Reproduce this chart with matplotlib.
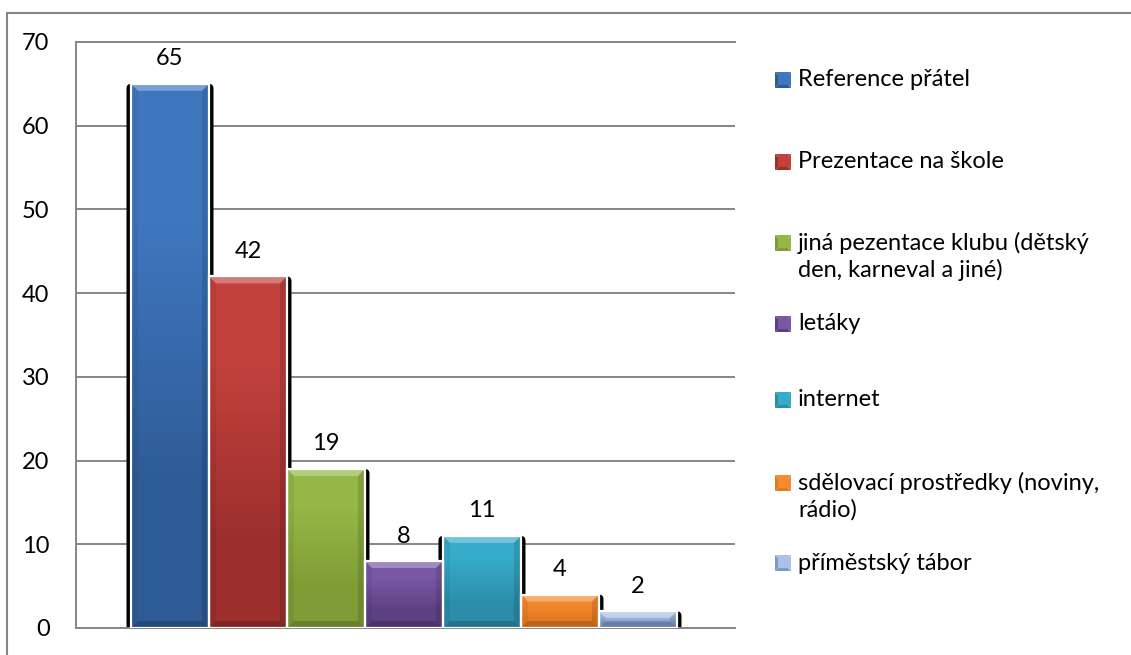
import matplotlib
matplotlib.use("Agg")
import matplotlib.pyplot as plt
import matplotlib.patches as mpatches
from matplotlib.colors import LinearSegmentedColormap
import numpy as np

# data
labels = ["Reference přátel", "Prezentace na škole",
          "jiná pezentace klubu (dětský\nden, karneval a jiné)", "letáky",
          "internet", "sdělovací prostředky (noviny,\nrádio)", "příměstský tábor"]
values = [65, 42, 19, 8, 11, 4, 2]
top_colors = ["#3F77BF", "#C2413D", "#95B747", "#7858A5", "#37ABCA", "#F58B30", "#A9C3E6"]
bottom_colors = ["#2E5B95", "#9C2F2C", "#7E9D36", "#5D4083", "#2B8DA9", "#E37B22", "#7F99C4"]
yticks = [0, 10, 20, 30, 40, 50, 60, 70]

W, H = 1131, 655
FONT = "Lato"
FS = 17

fig = plt.figure(figsize=(W / 100, H / 100), dpi=100)

def fx(x):
    return x / W

def fy(y):
    return 1 - y / H

# outer chart border
fig.patches.append(mpatches.Rectangle((fx(7), -0.1), 1.2, fy(13) + 0.1, transform=fig.transFigure,
                                      fill=False, edgecolor="#868686", lw=1.5))

ax = fig.add_axes([fx(76), fy(628), fx(735) - fx(76), fy(42) - fy(628)])
ax.set_xlim(-1.205, 7.244)
ax.set_ylim(0, 70)

xppu = (735 - 76) / (7.244 + 1.205)   # pixels per x unit
yppu = (628 - 42) / 70.0              # pixels per y unit

# black shadows first
for i, v in enumerate(values):
    x0 = i - 0.5
    sh = mpatches.FancyBboxPatch((x0 - 4.5 / xppu, -2.5 / yppu), 1 + 9 / xppu, v + 2.5 / yppu,
                                 boxstyle="round,pad=0,rounding_size=0.06",
                                 mutation_aspect=xppu / yppu, facecolor="black",
                                 edgecolor="none", zorder=2)
    ax.add_patch(sh)

dx = 7 / xppu
dy = 7 / yppu
for i, v in enumerate(values):
    x0, x1 = i - 0.5, i + 0.5
    cmap = LinearSegmentedColormap.from_list("g%d" % i, [top_colors[i], bottom_colors[i]])
    ax.imshow(np.array([[0.0], [1.0]]), cmap=cmap, extent=(x0, x1, 0, v), aspect="auto",
              interpolation="bilinear", origin="upper", zorder=3)
    d_y = min(dy, v / 2.5)
    # bevels
    ax.add_patch(mpatches.Polygon([(x0, v), (x1, v), (x1 - dx, v - d_y), (x0 + dx, v - d_y)],
                                  facecolor="white", alpha=0.3, edgecolor="none", zorder=4))
    ax.add_patch(mpatches.Polygon([(x0, v), (x0 + dx, v - d_y), (x0 + dx, d_y), (x0, 0)],
                                  facecolor="black", alpha=0.06, edgecolor="none", zorder=4))
    ax.add_patch(mpatches.Polygon([(x1, v), (x1 - dx, v - d_y), (x1 - dx, d_y), (x1, 0)],
                                  facecolor="black", alpha=0.12, edgecolor="none", zorder=4))
    ax.add_patch(mpatches.Polygon([(x0, 0), (x0 + dx, d_y), (x1 - dx, d_y), (x1, 0)],
                                  facecolor="black", alpha=0.18, edgecolor="none", zorder=4))
    ax.add_patch(mpatches.Rectangle((x0, 0), 1, v, fill=False, edgecolor="white", lw=1.6, zorder=5))
    ax.annotate(str(v), (i, v), xytext=(0, 18), textcoords="offset points", ha="center",
                va="center", fontsize=FS, family=FONT, color="black")

ax.set_yticks(yticks)
ax.set_xticks([])
ax.tick_params(axis="y", length=0, pad=19, labelsize=FS)
for t in ax.get_yticklabels():
    t.set_family(FONT)
ax.yaxis.grid(True, color="#868686", lw=1.4)
ax.set_axisbelow(True)
for s in ["left", "bottom", "top"]:
    ax.spines[s].set_color("#868686")
    ax.spines[s].set_linewidth(1.4)
ax.spines["right"].set_visible(False)
ax.patch.set_alpha(0)

# legend (manual, Excel-style spacing)
leg_y = [80, 162, 243, 324, 400, 483, 563]
for i, lab in enumerate(labels):
    y = leg_y[i]
    s = 16
    xl, xr = 775, 775 + s
    yt, yb = y - s / 2, y + s / 2
    xm, ym = (xl + xr) / 2, y
    c_top = top_colors[i]
    c_bot = bottom_colors[i]
    tris = [([(xl, yt), (xr, yt), (xm, ym)], c_top),
            ([(xl, yb), (xr, yb), (xm, ym)], c_bot),
            ([(xl, yt), (xl, yb), (xm, ym)], c_bot),
            ([(xr, yt), (xr, yb), (xm, ym)], c_top)]
    for pts, c in tris:
        fig.patches.append(mpatches.Polygon([(fx(a), fy(b)) for a, b in pts], closed=True,
                                            transform=fig.transFigure, facecolor=c,
                                            edgecolor="none"))
    fig.patches.append(mpatches.Polygon([(fx(xl + 3), fy(yt + 3)), (fx(xr - 3), fy(yt + 3)),
                                         (fx(xr - 3), fy(yb - 3)), (fx(xl + 3), fy(yb - 3))],
                                        closed=True, transform=fig.transFigure,
                                        facecolor=c_top, edgecolor="none"))
    lines = lab.split("\n")
    for k, line in enumerate(lines):
        fig.text(fx(798), fy(y + 27 * k), line, ha="left", va="center", fontsize=FS, family=FONT)

fig.savefig("out.png", dpi=100)
